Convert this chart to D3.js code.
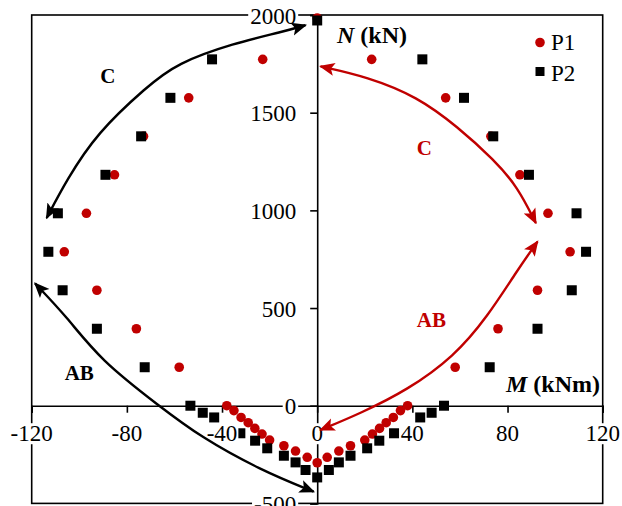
<!DOCTYPE html>
<html>
<head>
<meta charset="utf-8">
<script src="https://cdn.jsdelivr.net/npm/d3@7"></script>
<style>
  html, body { margin: 0; padding: 0; background: #fff; }
  svg { display: block; font-family: "Liberation Serif", "Times New Roman", serif; }
</style>
</head>
<body>
<svg id="chart" width="622" height="506"></svg>
<script>
// ---- Data ----
const xTicks = [-120, -80, -40, 0, 40, 80, 120];
const yTicks = [-500, 0, 500, 1000, 1500, 2000];

// P1 (red circles): right half, N >= 0
const p1N = [1985, 1773, 1576, 1379, 1182, 985, 788, 591, 394, 197, 0];
const p1M = [0, 22.9, 54, 73, 85.2, 97, 106.3, 92.6, 76, 58, 38];
// P1 tension branch (right half)
const p1TensN = [-25, -60, -87, -116, -145, -176, -205, -232, -264, -292];
const p1TensM = [35, 32, 29, 26.2, 23.2, 20, 14, 9.1, 4.2, 0];

// P2 (black squares): right half, N >= 0
const p2N = [1972, 1773, 1576, 1379, 1182, 985, 788, 591, 394, 197, 0];
const p2M = [0, 44.2, 61.7, 74, 89, 109, 113, 107, 92.6, 72.5, 53.3];
const p2TensN = [-36, -60, -141, -179, -218, -256, -290, -329, -367];
const p2TensM = [48.1, 43.3, 32.3, 26.1, 21, 14, 9.1, 4.9, 0];

// Annotation arrows (data units, ordered by increasing M)
const arrowBlackC = [[-113.7, 961], [-105.3, 1156], [-92.6, 1396], [-71.6, 1633], [-59, 1753], [-35.2, 1855], [-14.2, 1915], [-4.9, 1948]];
const arrowBlackAB = [[-118.6, 626], [-105.3, 456], [-91.2, 234], [-66, -5], [-49.1, -159], [-23.9, -329], [-1.5, -440]];
const arrowRedC = [[1.4, 1737], [21, 1684], [42.1, 1582], [59, 1428], [74.4, 1258], [84.2, 1121], [91.9, 935]];
const arrowRedAB = [[1.4, -124], [18.2, -39], [37.9, 80], [57.5, 251], [71.6, 456], [84.2, 695], [92.6, 840]];

const annoLabels = [
  { text: "C", M: -88, N: 1690, color: "#000" },
  { text: "AB", M: -100, N: 165, color: "#000" },
  { text: "C", M: 45, N: 1320, color: "#c00000" },
  { text: "AB", M: 48, N: 440, color: "#c00000" }
];

const RED = "#c00000";

// build symmetric point sets
function mirror(Ms, Ns) {
  const pts = [];
  Ms.forEach((m, i) => {
    pts.push([m, Ns[i]]);
    if (m !== 0) pts.push([-m, Ns[i]]);
  });
  return pts;
}
const p1Pts = mirror(p1M, p1N).concat(mirror(p1TensM, p1TensN));
const p2Pts = mirror(p2M, p2N).concat(mirror(p2TensM, p2TensN));

// ---- Layout ----
const svg = d3.select("#chart");
const x = d3.scaleLinear().domain([-120, 120]).range([31.7, 602.7]);
const y = d3.scaleLinear().domain([-500, 2000]).range([503.4, 15]);

// frame
svg.append("rect")
  .attr("x", x(-120)).attr("y", y(2000))
  .attr("width", x(120) - x(-120)).attr("height", y(-500) - y(2000))
  .attr("fill", "none").attr("stroke", "#000").attr("stroke-width", 1.6);

// axes lines through origin
const xAxisG = svg.append("g").attr("transform", `translate(0,${y(0)})`)
  .call(d3.axisBottom(x).tickValues(xTicks).tickSize(7).tickFormat(""));
const yAxisG = svg.append("g").attr("transform", `translate(${x(0)},0)`)
  .call(d3.axisLeft(y).tickValues(yTicks).tickSize(7).tickFormat(""));
[xAxisG, yAxisG].forEach(g => {
  g.select(".domain").attr("stroke", "#000").attr("stroke-width", 1.6);
  g.selectAll(".tick line").attr("stroke", "#000").attr("stroke-width", 1.6);
});

// points: circles first, squares on top
svg.append("g").selectAll("circle").data(p1Pts).join("circle")
  .attr("cx", d => x(d[0])).attr("cy", d => y(d[1])).attr("r", 4.8)
  .attr("fill", RED);
svg.append("g").selectAll("rect").data(p2Pts).join("rect")
  .attr("x", d => x(d[0]) - 5).attr("y", d => y(d[1]) - 5)
  .attr("width", 10).attr("height", 10).attr("fill", "#000");

// tick labels with white background
const labelG = svg.append("g").attr("font-size", 23);
function bgText(g, tx, ty, txt, anchor, pad) {
  const grp = g.append("g");
  const r = grp.append("rect").attr("fill", "#fff");
  const t = grp.append("text").attr("x", tx).attr("y", ty)
    .attr("text-anchor", anchor).attr("dominant-baseline", "central")
    .attr("fill", "#000").text(txt);
  const b = t.node().getBBox();
  r.attr("x", b.x - pad).attr("y", b.y + 2).attr("width", b.width + 2 * pad).attr("height", b.height - 4);
}
xTicks.forEach(v => bgText(labelG, x(v), y(0) + 28, String(v), "middle", 1));
yTicks.forEach(v => bgText(labelG, x(0) - 21, y(v) + 1, String(v), "end", 2));

// axis titles
const nTitle = svg.append("text").attr("x", 337).attr("y", 43).attr("font-size", 24).attr("font-weight", "bold");
nTitle.append("tspan").attr("font-style", "italic").text("N");
nTitle.append("tspan").text(" (kN)");
const mTitle = svg.append("text").attr("x", 506).attr("y", 392).attr("font-size", 24).attr("font-weight", "bold");
mTitle.append("tspan").attr("font-style", "italic").text("M");
mTitle.append("tspan").text(" (kNm)");

// legend
const leg = svg.append("g").attr("font-size", 23);
leg.append("circle").attr("cx", 540).attr("cy", 42.5).attr("r", 4.8).attr("fill", RED);
leg.append("text").attr("x", 551).attr("y", 50).text("P1");
leg.append("rect").attr("x", 535.5).attr("y", 67).attr("width", 9).attr("height", 9).attr("fill", "#000");
leg.append("text").attr("x", 551).attr("y", 80.5).text("P2");

// arrows
const defs = svg.append("defs");
function marker(id, color) {
  defs.append("marker").attr("id", id)
    .attr("viewBox", "0 0 10 10").attr("refX", 9).attr("refY", 5)
    .attr("markerWidth", 6.5).attr("markerHeight", 6.5)
    .attr("markerUnits", "strokeWidth")
    .attr("orient", "auto-start-reverse")
    .append("path").attr("d", "M0,0.8 L10,5 L0,9.2 L2.2,5 Z").attr("fill", color);
}
marker("arrBlack", "#000");
marker("arrRed", RED);
const line = d3.line().x(d => x(d[0])).y(d => y(d[1])).curve(d3.curveBasis);
[[arrowBlackC, "#000", "arrBlack"], [arrowBlackAB, "#000", "arrBlack"],
 [arrowRedC, RED, "arrRed"], [arrowRedAB, RED, "arrRed"]].forEach(([pts, c, m]) => {
  svg.append("path").attr("d", line(pts)).attr("fill", "none")
    .attr("stroke", c).attr("stroke-width", 2.4)
    .attr("marker-start", `url(#${m})`).attr("marker-end", `url(#${m})`);
});

// annotation labels
svg.append("g").selectAll("text").data(annoLabels).join("text")
  .attr("x", d => x(d.M)).attr("y", d => y(d.N))
  .attr("text-anchor", "middle").attr("dominant-baseline", "central")
  .attr("font-size", 21).attr("font-weight", "bold")
  .attr("fill", d => d.color).text(d => d.text);
</script>
</body>
</html>
